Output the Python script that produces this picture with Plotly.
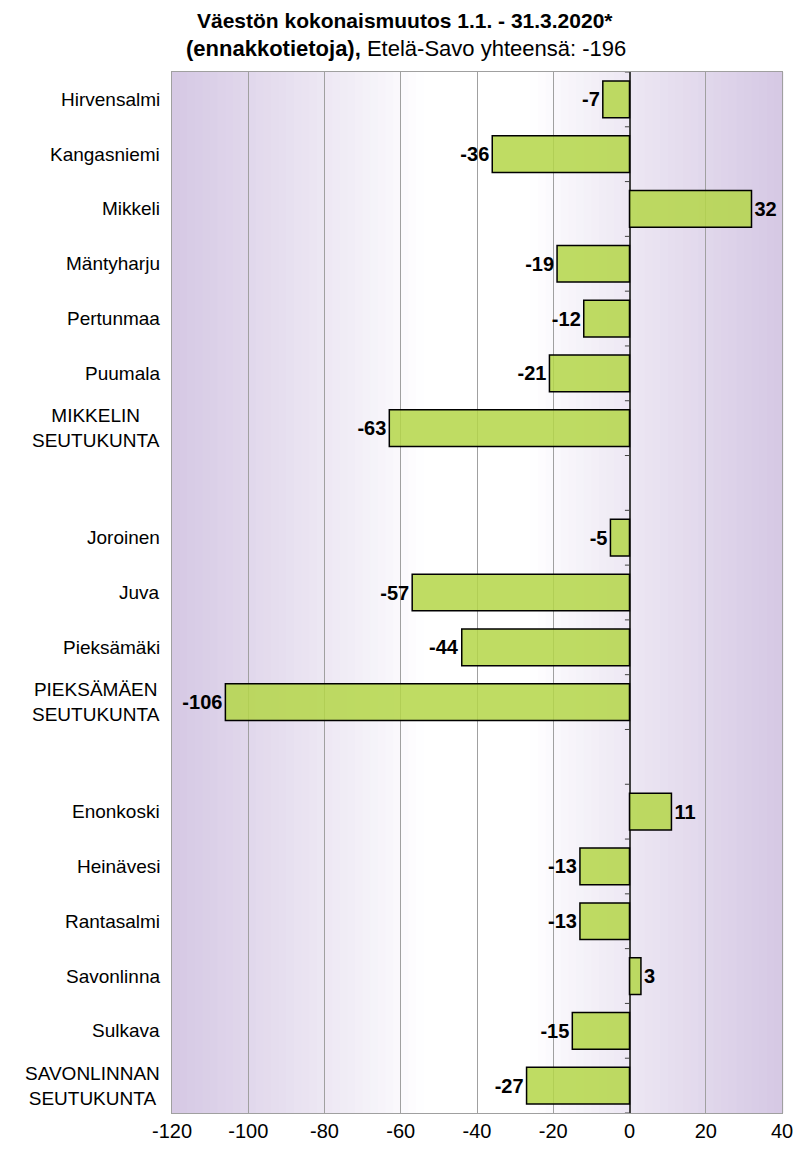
import plotly.graph_objects as go

categories = ["Hirvensalmi", "Kangasniemi", "Mikkeli", "Mäntyharju", "Pertunmaa", "Puumala",
              "MIKKELIN<br>SEUTUKUNTA", "", "Joroinen", "Juva", "Pieksämäki",
              "PIEKSÄMÄEN<br>SEUTUKUNTA", " ", "Enonkoski", "Heinävesi", "Rantasalmi",
              "Savonlinna", "Sulkava", "SAVONLINNAN<br>SEUTUKUNTA"]
values = [-7, -36, 32, -19, -12, -21, -63, None, -5, -57, -44, -106, None, 11, -13, -13, 3, -15, -27]
xticks = [-120, -100, -80, -60, -40, -20, 0, 20, 40]

ypos = list(range(len(categories)))
labels = ["" if v is None else f"<b>{v}</b>" for v in values]

FONT = "Liberation Sans"
W, H = 797, 1149
L, R, T, B = 164, 23, 64, 44
plot_h = H - T - B

fig = go.Figure()
fig.add_trace(go.Bar(
    y=ypos, x=values, orientation="h",
    marker=dict(color="rgba(180,214,72,0.85)", line=dict(color="black", width=1.5)),
    width=0.67,
    text=labels, textposition="outside", textfont=dict(size=20, color="black", family=FONT),
    cliponaxis=False, hoverinfo="skip",
))

# background gradient: purple at edges -> white in the middle
n = 80
edge = (213, 200, 228)
for i in range(n):
    t0, t1 = i / n, (i + 1) / n
    c = (t0 + t1) / 2
    d = abs(c - 0.5) / 0.5
    w = max(0.0, (d - 0.18) / 0.82) ** 0.9
    col = tuple(round(255 + (e - 255) * w) for e in edge)
    fig.add_shape(type="rect", xref="paper", yref="paper", x0=t0, x1=t1 + 0.002, y0=0, y1=1,
                  fillcolor=f"rgb{col}", line_width=0, layer="below")

# category labels
for yp, cat in zip(ypos, categories):
    if cat.strip():
        fig.add_annotation(x=-0.016, xref="paper", y=yp, yref="y", text=cat, showarrow=False,
                           xanchor="right", align="center",
                           font=dict(size=19, color="black", family=FONT))

# small ticks on the zero axis at category boundaries
for k in range(len(categories) + 1):
    fig.add_shape(type="line", xref="x", yref="y", x0=-1.2, x1=0, y0=k - 0.5, y1=k - 0.5,
                  line=dict(color="#404040", width=1))

# title lines
fig.add_annotation(xref="paper", yref="paper", x=(405 - 8 - L) / (W - L - R), y=1 + 52 / plot_h,
                   text="<b>Väestön kokonaismuutos 1.1. - 31.3.2020*</b>", showarrow=False,
                   xanchor="center", yanchor="middle", font=dict(size=21, family=FONT, color="black"))
fig.add_annotation(xref="paper", yref="paper", x=(406 - 8 - L) / (W - L - R), y=1 + 23 / plot_h,
                   text="<b>(ennakkotietoja),</b> Etelä-Savo yhteensä: -196", showarrow=False,
                   xanchor="center", yanchor="middle", font=dict(size=22, family=FONT, color="black"))

fig.update_layout(
    width=W, height=H,
    margin=dict(l=L, r=R, t=T, b=B),
    paper_bgcolor="white", plot_bgcolor="rgba(0,0,0,0)",
    showlegend=False,
    font=dict(family=FONT, color="black"),
    xaxis=dict(range=[-120, 40], tickvals=xticks, ticktext=[str(v) for v in xticks],
               showgrid=True, gridcolor="#a0a0a0", gridwidth=1,
               zeroline=True, zerolinecolor="#404040", zerolinewidth=1.5,
               showline=True, linecolor="#a0a0a0", mirror=True,
               tickfont=dict(size=20), ticks="", ticklen=0),
    yaxis=dict(range=[len(categories) - 0.5, -0.5], tickvals=ypos, showticklabels=False,
               showgrid=False, zeroline=False, showline=True, linecolor="#a0a0a0", mirror=True),
)

fig.write_html("out.html")
